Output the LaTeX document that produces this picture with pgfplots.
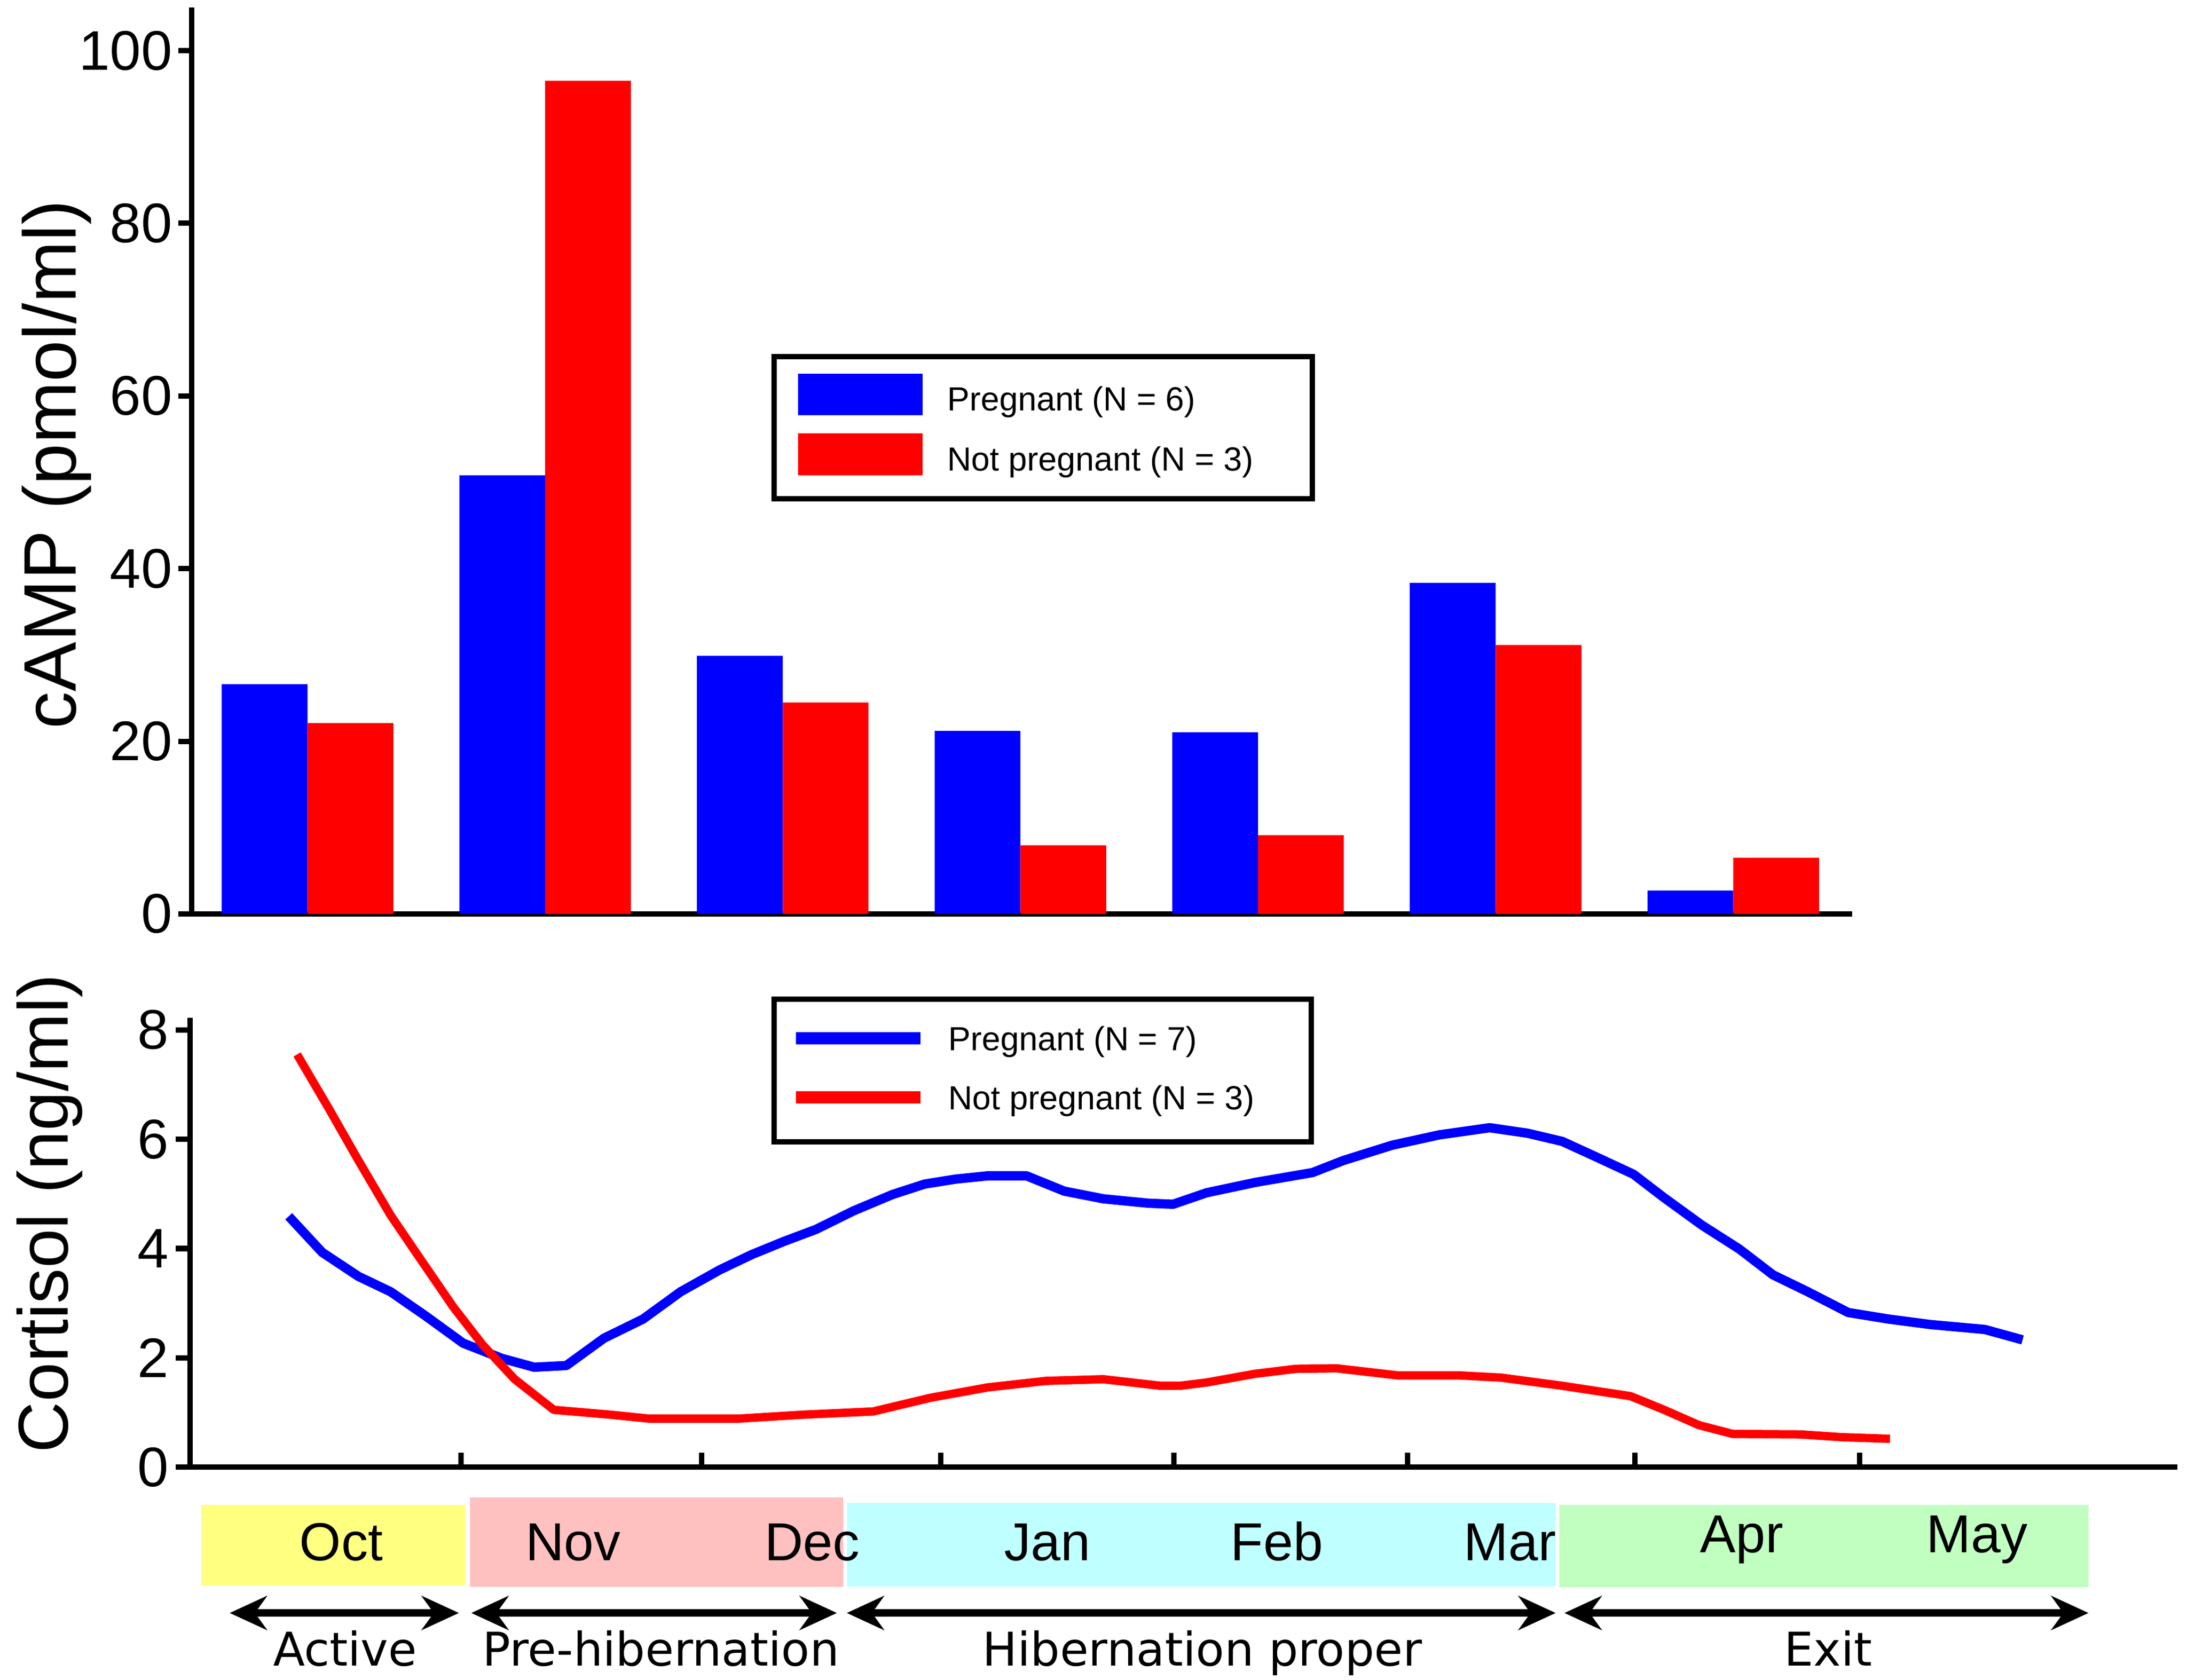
\documentclass[border=0pt]{standalone}
\usepackage{fontspec}
\setmainfont{Liberation Sans}
\newfontfamily\dejavu{DejaVu Sans}
\usepackage{pgfplots}
\pgfplotsset{compat=1.18}
\usetikzlibrary{arrows.meta}

\definecolor{pblue}{RGB}{0,0,255}
\definecolor{pred}{RGB}{255,0,0}
\definecolor{bandyellow}{RGB}{255,255,128}
\definecolor{bandpink}{RGB}{255,192,192}
\definecolor{bandcyan}{RGB}{192,255,255}
\definecolor{bandgreen}{RGB}{192,255,192}

\pgfplotstableread{
x y
207 4.59
231 3.93
257 3.49
280 3.21
305 2.77
332 2.27
360 1.99
383 1.83
406 1.86
433 2.36
461 2.71
488 3.21
516 3.61
539 3.89
562 4.13
585 4.35
612 4.69
640 4.99
663 5.18
685 5.27
708 5.33
736 5.33
763 5.05
791 4.91
823 4.83
841 4.81
865 5.02
900 5.21
941 5.39
963 5.61
998 5.89
1032 6.08
1068 6.21
1095 6.11
1120 5.96
1144 5.68
1171 5.36
1193 4.93
1220 4.43
1247 3.99
1271 3.52
1296 3.21
1325 2.83
1354 2.71
1384 2.61
1423 2.52
1450 2.33
}\pregnant

\pgfplotstableread{
x y
213 7.55
236 6.55
257 5.61
280 4.61
300 3.86
325 2.93
346 2.24
369 1.61
397 1.05
438 0.96
465 0.89
530 0.89
575 0.96
626 1.02
667 1.27
708 1.46
750 1.58
791 1.61
832 1.49
846 1.49
865 1.55
900 1.71
929 1.80
958 1.81
1002 1.68
1046 1.68
1076 1.64
1120 1.49
1169 1.30
1193 1.05
1218 0.77
1242 0.61
1291 0.60
1320 0.55
1355 0.52
}\notpregnant

\begin{document}
\begin{tikzpicture}
\path[use as bounding box] (0,0) rectangle (470.38pt,-361.37pt);

% ---------------- top: cAMP bars ----------------
\begin{axis}[
  at={(41.25pt,-196.59pt)}, anchor=south west,
  scale only axis, width=357.09pt, height=195pt,
  xmin=0.513, xmax=7.5, ymin=0, ymax=105,
  axis x line=bottom, axis y line=left,
  axis line style={-, line width=1.15pt},
  xtick=\empty,
  ytick={0,20,40,60,80,100},
  tick align=outside, major tick length=2.9pt,
  tick style={line width=1.15pt, black},
  /pgf/number format/assume math mode=true,
  yticklabel style={font=\fontsize{12}{14}\selectfont, inner sep=0pt, xshift=-1.1pt},
  ylabel={cAMP (pmol/ml)},
  ylabel style={font=\fontsize{16}{19}\selectfont, at={(axis description cs:-0.0697,0.496)}, anchor=base},
  ybar=0pt, bar width=18.45pt,
  legend image code/.code={\fill[#1] (0pt,-4.47pt) rectangle (26.8pt,4.47pt);},
  legend cell align=left,
  legend style={at={(0.3647,0.5998)}, anchor=north west, draw=none, fill=none,
    inner sep=0pt, row sep=2.9pt, column sep=5.25pt, nodes={inner sep=0pt},
    font=\fontsize{7.2}{8.6}\selectfont},
]
\addplot[fill=pblue, draw=none] coordinates {(1,26.6) (2,50.8) (3,29.9) (4,21.2) (5,21.05) (6,38.35) (7,2.7)};
\addlegendentry{\rule[-1.5pt]{0pt}{10pt}Pregnant (N = 6)}
\addplot[fill=pred, draw=none] coordinates {(1,22.1) (2,96.5) (3,24.5) (4,7.96) (5,9.13) (6,31.15) (7,6.5)};
\addlegendentry{\rule[-1.5pt]{0pt}{10pt}Not pregnant (N = 3)}
\draw[line width=1.15pt] (rel axis cs:0.3508,0.6148) rectangle (rel axis cs:0.6750,0.4582);
\end{axis}

% ---------------- bottom: cortisol lines ----------------
\begin{axis}[
  at={(40.92pt,-315.6pt)}, anchor=south west,
  scale only axis, width=427.38pt, height=96.72pt,
  xmin=136.4, xmax=1561, ymin=0, ymax=8.224,
  clip=false,
  axis x line=bottom, axis y line=left,
  axis line style={-, line width=1.15pt},
  xtick={330.5,503,674.3,841.6,1009.2,1172,1333.2}, xticklabels={},
  ytick={0,2,4,6,8},
  xtick align=inside, ytick align=outside,
  major tick length=3.1pt,
  tick style={line width=1.15pt, black},
  /pgf/number format/assume math mode=true,
  yticklabel style={font=\fontsize{12}{14}\selectfont, inner sep=0pt, xshift=-1.3pt},
  ylabel={Cortisol (ng/ml)},
  ylabel style={font=\fontsize{15.2}{18}\selectfont, at={(axis description cs:-0.0617,0.5645)}, anchor=base},
  legend image code/.code={\path (0pt,0pt) -- (26.8pt,0pt); \draw[#1, line width=2.6pt, overlay] (0pt,0pt) -- (26.8pt,0pt);},
  legend cell align=left,
  legend style={at={(0.3020,0.9997)}, anchor=north west, draw=none, fill=none,
    inner sep=0pt, row sep=4.3pt, column sep=5.0pt, nodes={inner sep=0pt},
    font=\fontsize{7.2}{8.6}\selectfont},
]
\addplot[color=pblue, line width=2pt, line join=round] table {\pregnant};
\addlegendentry{\rule[-1.5pt]{0pt}{8.4pt}Pregnant (N = 7)}
\addplot[color=pred, line width=1.8pt, line join=round] table {\notpregnant};
\addlegendentry{\rule[-1.5pt]{0pt}{8.4pt}Not pregnant (N = 3)}
\draw[line width=1.15pt] (rel axis cs:0.2938,1.0412) rectangle (rel axis cs:0.5641,0.7236);

% season bands
\fill[bandyellow] (axis cs:144.2,-0.686) rectangle (axis cs:333.5,-2.158);
\fill[bandpink]   (axis cs:337.0,-0.556) rectangle (axis cs:604.5,-2.189);
\fill[bandcyan]   (axis cs:607.1,-0.653) rectangle (axis cs:1115.3,-2.179);
\fill[bandgreen]  (axis cs:1118.0,-0.686) rectangle (axis cs:1497.3,-2.194);

% month labels
\begin{scope}[every node/.style={anchor=base, font=\fontsize{11.5}{13}\selectfont, inner sep=0pt}]
\node at (axis cs:244.7,-1.709) {Oct};
\node at (axis cs:410.8,-1.709) {Nov};
\node at (axis cs:582.3,-1.709) {Dec};
\node at (axis cs:751.0,-1.709) {Jan};
\node at (axis cs:915.4,-1.709) {Feb};
\node at (axis cs:1082.5,-1.709) {Mar};
\node at (axis cs:1248.6,-1.561) {Apr};
\node at (axis cs:1417.4,-1.561) {May};
\end{scope}

% phase arrows
\begin{scope}[line width=1.6pt, {Stealth[length=8pt,width=7.3pt]}-{Stealth[length=8pt,width=7.3pt]}]
\draw (axis cs:164.7,-2.666) -- (axis cs:329.0,-2.666);
\draw (axis cs:337.9,-2.666) -- (axis cs:600.0,-2.666);
\draw (axis cs:607.1,-2.666) -- (axis cs:1115.3,-2.666);
\draw (axis cs:1121.6,-2.666) -- (axis cs:1497.3,-2.666);
\end{scope}

% phase labels
\begin{scope}[every node/.style={anchor=base, font=\dejavu\fontsize{10}{12}\selectfont, inner sep=0pt}]
\node at (axis cs:247.4,-3.63) {Active};
\node at (axis cs:473.9,-3.63) {Pre-hibernation};
\node at (axis cs:862.0,-3.63) {Hibernation proper};
\node at (axis cs:1310.8,-3.63) {Exit};
\end{scope}
\end{axis}
\end{tikzpicture}
\end{document}
